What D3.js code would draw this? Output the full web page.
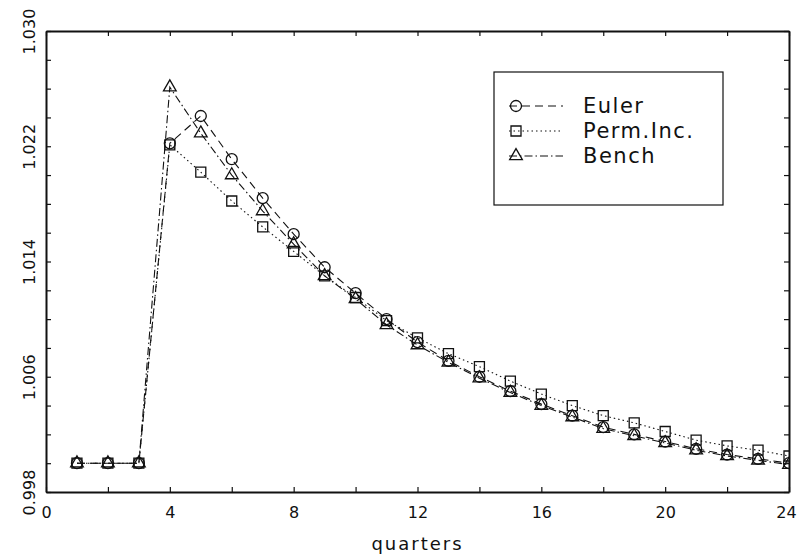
<!DOCTYPE html>
<html>
<head>
<meta charset="utf-8">
<script src="https://cdn.jsdelivr.net/npm/d3@7"></script>
<style>
  body { margin: 0; background: #fff; }
  text { font-family: "DejaVu Sans", sans-serif; fill: #111; }
</style>
</head>
<body>
<div id="chart"></div>
<script>
// Données
const quarters = [1, 2, 3, 4, 5, 6, 7, 8, 9, 10, 11, 12, 13, 14, 15, 16, 17, 18, 19, 20, 21, 22, 23, 24];
const euler = [1.0, 1.0, 1.0, 1.0222, 1.0241, 1.0211, 1.0184, 1.0159, 1.0136, 1.0118, 1.0100, 1.0084,
  1.0071, 1.0060, 1.0050, 1.0041, 1.0033, 1.0025, 1.0020, 1.0015, 1.0010, 1.0006, 1.0003, 1.0000];
const permInc = [1.0, 1.0, 1.0, 1.0221, 1.0202, 1.0182, 1.0164, 1.0147, 1.0130, 1.0115, 1.0099, 1.0087,
  1.0076, 1.0067, 1.0057, 1.0048, 1.0040, 1.0033, 1.0028, 1.0022, 1.0016, 1.0012, 1.0009, 1.0005];
const bench = [1.0, 1.0, 1.0, 1.0261, 1.0229, 1.0200, 1.0175, 1.0152, 1.0130, 1.0114, 1.0096, 1.0082,
  1.0070, 1.0059, 1.0049, 1.0040, 1.0032, 1.0024, 1.0019, 1.0014, 1.0009, 1.0005, 1.0002, 0.9999];
const seriesNames = ["Euler", "Perm.Inc.", "Bench"];
const xTicks = [0, 2, 4, 6, 8, 10, 12, 14, 16, 18, 20, 22, 24];
const xLabels = [0, 4, 8, 12, 16, 20, 24];
const yTicks = [0.998, 1.000, 1.002, 1.004, 1.006, 1.008, 1.010, 1.012, 1.014, 1.016,
  1.018, 1.020, 1.022, 1.024, 1.026, 1.028, 1.030];
const yLabels = [0.998, 1.006, 1.014, 1.022, 1.030];

let width = 798;
let height = 559;
let mLeft = 46, mRight = 789, mTop = 31, mBottom = 492;

let svg = d3.select("#chart")
  .append("svg")
  .attr("width", width)
  .attr("height", height);

let x = d3.scaleLinear().domain([0, 24]).range([mLeft, mRight]);
let y = d3.scaleLinear().domain([0.998, 1.030]).range([mBottom, mTop]);

// Styles des séries : tirets, pointillés, tiret-point
let styles = [
  { values: euler, dash: "8,5", symbol: d3.symbolCircle, size: 95 },
  { values: permInc, dash: "1.5,3", symbol: d3.symbolSquare, size: 100 },
  { values: bench, dash: "8,3,1.5,3", symbol: d3.symbolTriangle, size: 70 }
];

svg.append("clipPath").attr("id", "plotClip")
  .append("rect")
  .attr("x", mLeft).attr("y", mTop)
  .attr("width", mRight - mLeft).attr("height", mBottom - mTop);

let plot = svg.append("g").attr("clip-path", "url(#plotClip)");

let line = d3.line()
  .x((d, i) => x(quarters[i]))
  .y(d => y(d));

styles.forEach(s => {
  plot.append("path")
    .datum(s.values)
    .attr("d", line)
    .attr("fill", "none")
    .attr("stroke", "#111")
    .attr("stroke-width", 1.1)
    .attr("stroke-dasharray", s.dash);

  plot.selectAll(null)
    .data(s.values)
    .enter()
    .append("path")
    .attr("d", d3.symbol().type(s.symbol).size(s.size))
    .attr("transform", (d, i) => `translate(${x(quarters[i])},${y(d)})`)
    .attr("fill", "none")
    .attr("stroke", "#111")
    .attr("stroke-width", 1.3);
});

// Axes avec graduations vers l'intérieur
let axisBottom = svg.append("g")
  .attr("transform", `translate(0,${mBottom})`)
  .call(d3.axisBottom(x).tickValues(xTicks).tickSize(-5).tickSizeOuter(0)
    .tickFormat(d => xLabels.includes(d) ? d : ""));
axisBottom.selectAll("text")
  .attr("y", 26).attr("dy", 0)
  .attr("x", d => d === 24 ? -3 : 0) // le dernier label reste dans la fenêtre
  .style("font-size", "16px");

svg.append("g")
  .attr("transform", `translate(0,${mTop})`)
  .call(d3.axisTop(x).tickValues(xTicks).tickSize(-5).tickSizeOuter(0).tickFormat(""));

let axisLeft = svg.append("g")
  .attr("transform", `translate(${mLeft},0)`)
  .call(d3.axisLeft(y).tickValues(yTicks).tickSize(-5).tickSizeOuter(0)
    .tickFormat(d => yLabels.some(v => Math.abs(v - d) < 1e-9) ? d3.format(".3f")(d) : ""));
axisLeft.selectAll("text")
  .attr("x", 0).attr("dy", 0)
  .attr("text-anchor", "middle")
  .attr("transform", "translate(-11,0) rotate(-90)")
  .style("font-size", "16px");

svg.append("g")
  .attr("transform", `translate(${mRight},0)`)
  .call(d3.axisRight(y).tickValues(yTicks).tickSize(-5).tickSizeOuter(0).tickFormat(""));

svg.selectAll(".domain").attr("stroke", "#111").attr("stroke-width", 2);
svg.selectAll(".tick line").attr("stroke", "#111").attr("stroke-width", 1.2);

svg.append("text")
  .attr("x", (mLeft + mRight) / 2)
  .attr("y", 550)
  .attr("text-anchor", "middle")
  .style("font-size", "18px")
  .style("letter-spacing", "2px")
  .text("quarters");

// Légende
let legend = svg.append("g");
legend.append("rect")
  .attr("x", 494).attr("y", 72)
  .attr("width", 229).attr("height", 133)
  .attr("fill", "#fff")
  .attr("stroke", "#111")
  .attr("stroke-width", 1.2);

styles.forEach((s, i) => {
  let ly = 106 + i * 25;
  legend.append("line")
    .attr("x1", 509).attr("x2", 563)
    .attr("y1", ly).attr("y2", ly)
    .attr("stroke", "#111")
    .attr("stroke-width", 1.1)
    .attr("stroke-dasharray", s.dash);
  legend.append("path")
    .attr("d", d3.symbol().type(s.symbol).size(s.size))
    .attr("transform", `translate(516,${ly})`)
    .attr("fill", "none")
    .attr("stroke", "#111")
    .attr("stroke-width", 1.3);
  legend.append("text")
    .attr("x", 583)
    .attr("y", ly + 7)
    .style("font-size", "21px")
    .style("letter-spacing", "1.5px")
    .text(seriesNames[i]);
});
</script>
</body>
</html>
